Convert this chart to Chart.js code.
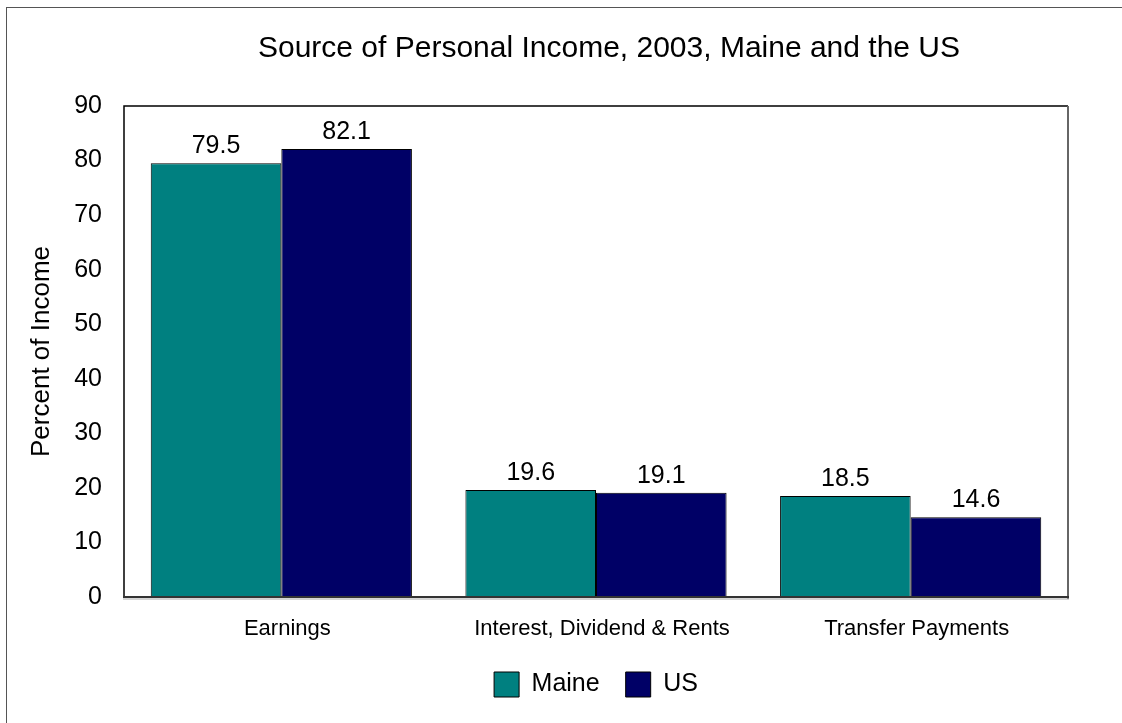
<!DOCTYPE html>
<html>
<head>
<meta charset="utf-8">
<script src="https://cdn.jsdelivr.net/npm/chart.js@4"></script>
<style>
  html, body { margin: 0; padding: 0; background: #fff; }
  #wrap { position: relative; width: 1122px; height: 723px; overflow: hidden; }
  #frame { position: absolute; left: 6px; top: 7px; width: 1200px; height: 800px;
           border-left: 1px solid #555; border-top: 1px solid #555; }
  canvas { position: absolute; left: 0; top: 0; }
</style>
</head>
<body>
<div id="wrap">
  <div id="frame"></div>
  <canvas id="grafica" width="1122" height="723"></canvas>
</div>
<script>
const categorias = ['Earnings', 'Interest, Dividend & Rents', 'Transfer Payments'];
const maine = [79.5, 19.6, 18.5];
const us = [82.1, 19.1, 14.6];
const ticksY = [0, 10, 20, 30, 40, 50, 60, 70, 80, 90];

// marco del area de grafico y etiquetas de valores
const marco = {
  id: 'marco',
  afterLayout(chart) {
    const t = chart.titleBlock;
    if (t) { t.left = 150; t.right = 1068; }
  },
  afterDatasetsDraw(chart) {
    const {ctx, chartArea: a} = chart;
    ctx.save();
    ctx.strokeStyle = '#000';
    ctx.lineWidth = 1.5;
    ctx.beginPath();
    ctx.moveTo(a.left, a.bottom);
    ctx.lineTo(a.left, a.top);
    ctx.lineTo(a.right, a.top);
    ctx.stroke();
    ctx.strokeStyle = '#666';
    ctx.lineWidth = 2;
    ctx.beginPath();
    ctx.moveTo(a.right, a.top);
    ctx.lineTo(a.right, a.bottom + 2);
    ctx.stroke();
    ctx.strokeStyle = '#333';
    ctx.lineWidth = 2;
    ctx.beginPath();
    ctx.moveTo(a.left - 1, a.bottom);
    ctx.lineTo(a.right + 1, a.bottom);
    ctx.stroke();
    ctx.strokeStyle = '#aaa';
    ctx.lineWidth = 1;
    ctx.beginPath();
    ctx.moveTo(a.left - 1, a.bottom + 2);
    ctx.lineTo(a.right + 1, a.bottom + 2);
    ctx.stroke();

    ctx.fillStyle = '#000';
    ctx.font = '25px Arial, "Liberation Sans", sans-serif';
    ctx.textAlign = 'center';
    ctx.textBaseline = 'alphabetic';
    chart.data.datasets.forEach((ds, i) => {
      chart.getDatasetMeta(i).data.forEach((bar, j) => {
        ctx.fillText(ds.data[j].toFixed(1), bar.x, bar.y - 10);
      });
    });
    ctx.restore();
  }
};

new Chart(document.getElementById('grafica'), {
  type: 'bar',
  data: {
    labels: categorias,
    datasets: [
      { label: 'Maine', data: maine, backgroundColor: '#008080', borderColor: '#000', borderWidth: 1 },
      { label: 'US', data: us, backgroundColor: '#000066', borderColor: '#000', borderWidth: 1 }
    ]
  },
  options: {
    responsive: false,
    animation: false,
    devicePixelRatio: 1,
    layout: { padding: { left: 0, right: 54, top: 0, bottom: 16 } },
    datasets: { bar: { categoryPercentage: 0.83, barPercentage: 1 } },
    font: { family: 'Arial, "Liberation Sans", sans-serif' },
    color: '#000',
    plugins: {
      title: {
        display: true,
        text: 'Source of Personal Income, 2003, Maine and the US',
        color: '#000',
        font: { size: 30, weight: 'normal' },
        padding: { top: 31, bottom: 39 }
      },
      legend: {
        position: 'bottom',
        fullSize: false,
        labels: {
          color: '#000',
          font: { size: 25 },
          boxWidth: 25,
          boxHeight: 25,
          padding: 26
        }
      },
      tooltip: { enabled: false }
    },
    scales: {
      x: {
        grid: { display: false, drawTicks: false },
        border: { display: false },
        ticks: { color: '#000', font: { size: 22 }, padding: 19, labelOffset: 6, maxRotation: 0 },
        afterFit(s) { s.height = 49; }
      },
      y: {
        min: 0,
        max: 90,
        grid: { display: false, drawTicks: false },
        border: { display: false },
        afterBuildTicks(s) { s.ticks = ticksY.map(v => ({ value: v })); },
        ticks: { color: '#000', font: { size: 25 }, padding: 22 },
        title: {
          display: true,
          text: 'Percent of Income',
          color: '#000',
          font: { size: 26 },
          padding: { top: 26, bottom: 0 }
        },
        afterFit(s) { s.width = 124; }
      }
    }
  },
  plugins: [marco]
});
</script>
</body>
</html>
